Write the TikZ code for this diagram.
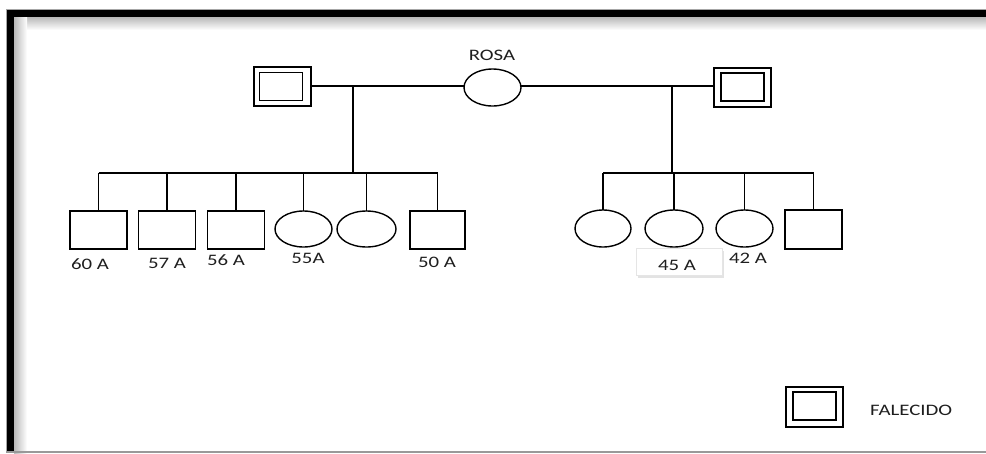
\documentclass[tikz,border=0pt]{standalone}
\usepackage{fontspec}
\setmainfont{Carlito}[FakeStretch=1.3]
\usetikzlibrary{shapes.geometric,shadows}
\definecolor{txt}{HTML}{1E1E1E}
\tikzset{
  person/.style={draw=black, line width=1.4pt, inner sep=0pt, outer sep=0pt},
  male/.style={person, rectangle, minimum width=57pt, minimum height=38pt},
  female/.style={person, ellipse, minimum width=57pt, minimum height=37pt},
  deadout/.style={draw=black, line width=1.3pt, rectangle, inner sep=0pt, outer sep=0pt, minimum width=57pt, minimum height=39pt},
  deadin/.style={draw=black, line width=1.8pt, rectangle, inner sep=0pt, minimum width=43pt, minimum height=28pt},
  link/.style={draw=black, line width=1.2pt},
  lbl/.style={text=txt, font=\fontsize{16}{18}\selectfont, inner sep=0pt},
}
\begin{document}
\begin{tikzpicture}[x=1pt,y=-1pt]
\useasboundingbox (0,0) rectangle (986,453);
% frame
\shade[top color=gray!55, bottom color=white] (14,17) rectangle (986,30);
\shade[left color=gray!55, right color=white] (14,17) rectangle (27,453);
\fill[black] (7,10) rectangle (986,17);
\fill[black] (7,10) rectangle (14,453);
\draw[gray!70, line width=0.8pt] (986,9.4) -- (6.4,9.4) -- (6.4,453);
\draw[gray!80, line width=1.2pt] (6,452) -- (986,452);

% parents
\node[deadout] (fl) at (282.5,86.5) {};
\node[deadin] (fli) at (281,86.5) {};
\node[female] (rosa) at (492.5,87.5) {};
\node[deadout] (fr) at (742.5,87.5) {};
\node[deadin] (fri) at (742.5,87) {};
\node[lbl] (rosalbl) at (492,55) {ROSA};

\draw[link] (fl.east |- 0,86) -- (rosa.west |- 0,86);
\draw[link] (rosa.east |- 0,86) -- (fr.west |- 0,86);

\coordinate (jl) at (353,86);
\coordinate (bl) at (353,173);
\coordinate (jr) at (672,86);
\coordinate (br) at (672,173);

% left children
\node[male] (l1) at (98.5,230) {};
\node[male] (l2) at (167,230) {};
\node[male] (l3) at (236,230) {};
\node[female, minimum height=36pt] (l4) at (303.5,229) {};
\node[female, minimum width=59pt, minimum height=36pt] (l5) at (366.5,229) {};
\node[male, minimum width=55pt] (l6) at (437.5,230) {};

\draw[link] (jl) -- (bl);
\draw[link] (l1.north |- bl) -- (l6.north |- bl);
\foreach \c in {l1,l2,l3,l4,l5,l6} \draw[link] (\c.north) -- (\c.north |- bl);

% right children
\node[female, minimum width=56pt] (r1) at (603,228.5) {};
\node[female, minimum width=58pt] (r2) at (674,228.5) {};
\node[female] (r3) at (744.5,228.5) {};
\node[male, minimum height=39pt] (r4) at (813.5,229.5) {};

\draw[link] (jr) -- (br);
\draw[link] (r1.north |- br) -- (r4.north |- br);
\foreach \c in {r1,r2,r3,r4} \draw[link] (\c.north) -- (\c.north |- br);

% labels
\node[lbl] (a60) at (90,264) {60 A};
\node[lbl] (a57) at (167,263) {57 A};
\node[lbl] (a56) at (226,260) {56 A};
\node[lbl] (a55) at (308,258) {55A};
\node[lbl] (a50) at (437,262) {50 A};
\node[draw=gray!20, fill=white, line width=0.5pt, drop shadow={opacity=0.22, shadow xshift=1.5pt, shadow yshift=-2.5pt}, minimum width=86pt, minimum height=27pt, inner sep=0pt] (box45) at (679,261.5) {};
\node[lbl] (a45) at (677,265) {45 A};
\node[lbl] (a42) at (748,258) {42 A};

% legend
\node[deadout, minimum height=40pt] (leg) at (814.5,407) {};
\node[deadin] (legi) at (814.5,406) {};
\node[lbl, anchor=west] (legtxt) at (870,410) {FALECIDO};
\end{tikzpicture}
\end{document}
